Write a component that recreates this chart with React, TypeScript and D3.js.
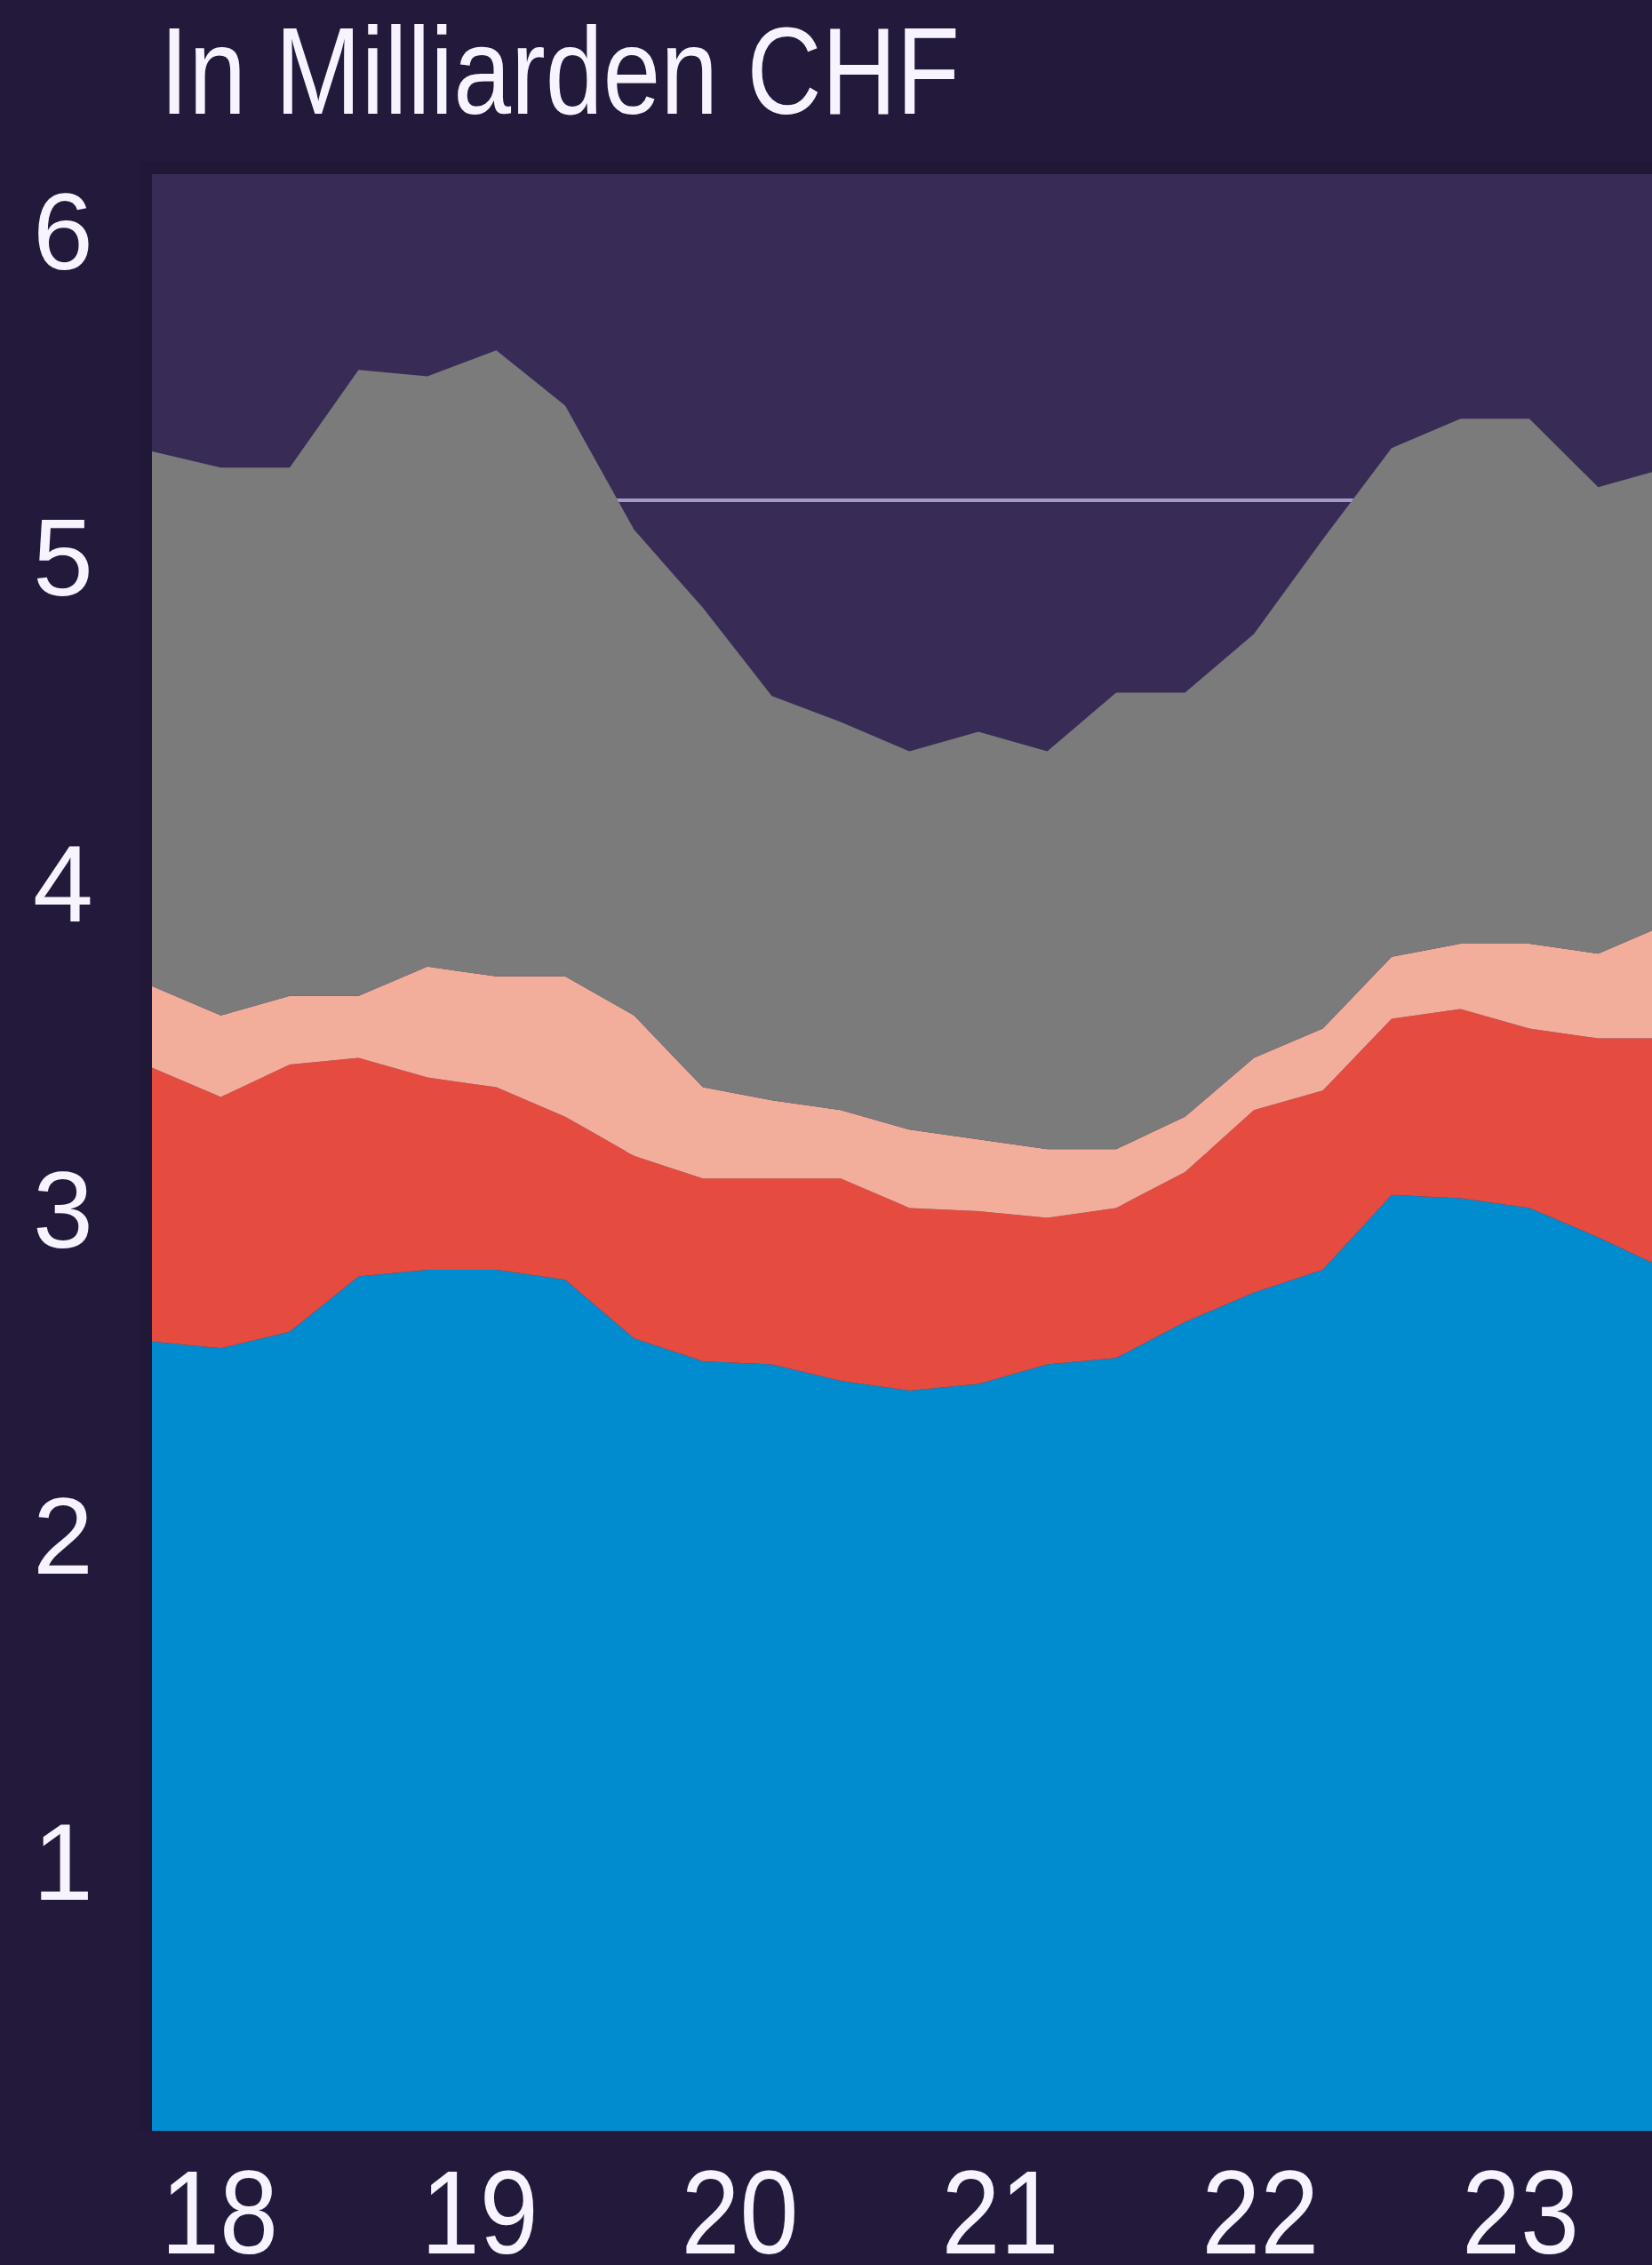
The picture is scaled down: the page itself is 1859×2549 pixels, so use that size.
import React, { useEffect } from "react";
import * as d3 from "d3";

// Quarterly periods on the horizontal axis
const periods = [
  "2018 Q1", "2018 Q2", "2018 Q3", "2018 Q4",
  "2019 Q1", "2019 Q2", "2019 Q3", "2019 Q4",
  "2020 Q1", "2020 Q2", "2020 Q3", "2020 Q4",
  "2021 Q1", "2021 Q2", "2021 Q3", "2021 Q4",
  "2022 Q1", "2022 Q2", "2022 Q3", "2022 Q4",
  "2023 Q1", "2023 Q2", "2023 Q3",
];

// Stacked components, bottom to top (CHF billions)
const blueSeries = [2.42, 2.40, 2.45, 2.62, 2.64, 2.64, 2.61, 2.43, 2.36, 2.35, 2.30, 2.27, 2.29, 2.35, 2.37, 2.48, 2.57, 2.64, 2.87, 2.86, 2.83, 2.74, 2.64];
const redSeries = [0.84, 0.77, 0.82, 0.67, 0.59, 0.56, 0.50, 0.56, 0.56, 0.57, 0.62, 0.56, 0.53, 0.45, 0.46, 0.46, 0.56, 0.55, 0.54, 0.58, 0.55, 0.61, 0.71];
const pinkSeries = [0.25, 0.25, 0.21, 0.19, 0.34, 0.34, 0.43, 0.43, 0.28, 0.24, 0.21, 0.24, 0.22, 0.21, 0.18, 0.17, 0.16, 0.19, 0.19, 0.20, 0.26, 0.26, 0.35];
const greySeries = [1.64, 1.68, 1.62, 1.92, 1.81, 1.92, 1.75, 1.49, 1.47, 1.24, 1.19, 1.16, 1.25, 1.22, 1.40, 1.30, 1.30, 1.50, 1.56, 1.61, 1.61, 1.43, 1.40];

const yearLabels = ["18", "19", "20", "21", "22", "23"];
const yTicks = [1, 2, 3, 4, 5, 6];
const gridValues = [1, 2, 3, 4, 5];
const title = "In Milliarden CHF";

const keys = ["blue", "red", "pink", "grey"];
const colors: Record<string, string> = {
  blue: "#008ccf",
  red: "#e54b3f",
  pink: "#f3ae9b",
  grey: "#7b7b7b",
};

const W = 1859;
const H = 2549;
const plotLeft = 171;
const plotRight = W;
const plotTop = 196;
const plotBottom = 2398;

export default function App() {
  useEffect(() => {
    document.body.style.margin = "0";
    document.body.style.background = "#23193a";
  }, []);

  const rows = periods.map((p, i) => ({
    period: p,
    blue: blueSeries[i],
    red: redSeries[i],
    pink: pinkSeries[i],
    grey: greySeries[i],
  }));

  const x = d3.scalePoint<string>().domain(periods).range([plotLeft, 1876]);
  const y = d3.scaleLinear().domain([0, 6]).range([plotBottom, plotTop]);
  const xYear = d3.scalePoint<string>().domain(yearLabels).range([plotLeft, plotLeft + 5 * 292.8]);

  const stacked = d3.stack<any>().keys(keys)(rows);
  const area = d3
    .area<any>()
    .x((d) => x(d.data.period) as number)
    .y0((d) => y(d[0]))
    .y1((d) => y(d[1]))
    .curve(d3.curveLinear);

  const sans = "'Liberation Sans', Arial, sans-serif";
  const narrow = "'Liberation Sans Narrow', 'Liberation Sans', Arial, sans-serif";

  return (
    <svg
      width={W}
      height={H}
      viewBox={`0 0 ${W} ${H}`}
      style={{ display: "block", position: "absolute", left: 0, top: 0 }}
    >
      <defs>
        <clipPath id="plot-clip">
          <rect x={plotLeft} y={plotTop} width={plotRight - plotLeft} height={plotBottom - plotTop} />
        </clipPath>
      </defs>
      <rect x={0} y={0} width={W} height={H} fill="#23193a" />
      <rect x={plotLeft - 14} y={plotTop - 14} width={W} height={plotBottom - plotTop + 14} fill="#211837" />
      <rect
        x={plotLeft}
        y={plotTop}
        width={plotRight - plotLeft}
        height={plotBottom - plotTop}
        fill="#382c56"
      />
      <g clipPath="url(#plot-clip)">
        {gridValues.map((t) => (
          <line
            key={t}
            x1={plotLeft}
            x2={plotRight}
            y1={y(t)}
            y2={y(t)}
            stroke="#a39bc6"
            strokeWidth={4}
          />
        ))}
        {stacked.map((s) => (
          <path key={s.key} d={area(s) || ""} fill={colors[s.key]} />
        ))}
      </g>

      <text
        x={180}
        y={128}
        fill="#f7f3ff"
        fontFamily={narrow}
        fontSize={140}
        textLength={900}
        lengthAdjust="spacingAndGlyphs"
      >
        {title}
      </text>

      {yTicks.map((t) => (
        <text
          key={t}
          x={71}
          y={y(t) + 107}
          fill="#f7f3ff"
          fontFamily={sans}
          fontSize={122}
          textAnchor="middle"
        >
          {t}
        </text>
      ))}

      {yearLabels.map((l) => (
        <text
          key={l}
          x={(xYear(l) as number) + 10}
          y={2536}
          fill="#f7f3ff"
          fontFamily={narrow}
          fontSize={134}
          textLength={132}
          lengthAdjust="spacingAndGlyphs"
        >
          {l}
        </text>
      ))}
    </svg>
  );
}
